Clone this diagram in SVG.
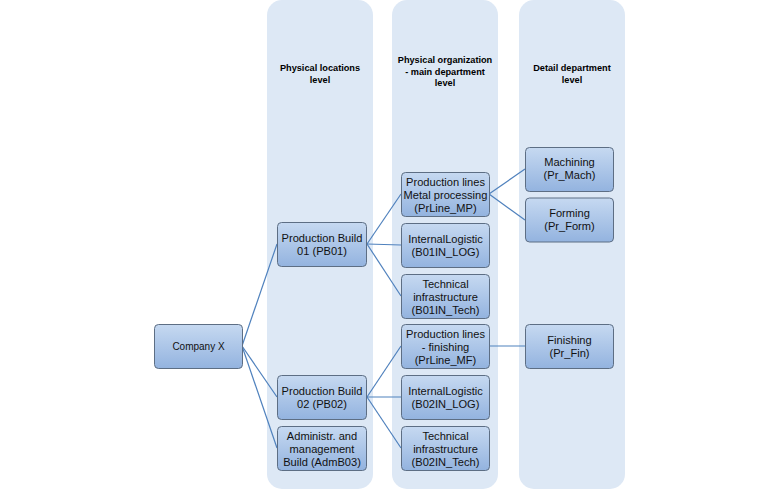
<svg xmlns="http://www.w3.org/2000/svg" width="759" height="490" viewBox="0 0 759 490">
  <defs>
    <linearGradient id="nodeFill" x1="0" y1="0" x2="0" y2="1">
      <stop offset="0" stop-color="#c6d9f1"/>
      <stop offset="1" stop-color="#93b3df"/>
    </linearGradient>
  </defs>
  <style>
    .lane { fill: #dde8f5; }
    .head { font-family: "Liberation Sans", Arial, sans-serif; font-size: 9.2px; font-weight: bold; fill: #000; text-anchor: middle; }
    .node rect { fill: url(#nodeFill); stroke: #5d6e84; stroke-width: 1; }
    .node text { font-family: "Liberation Sans", Arial, sans-serif; font-size: 11.1px; fill: #111; text-anchor: middle; }
    .conn line { stroke: #4f81bd; stroke-width: 1.2; fill: none; }
  </style>

  <rect width="759" height="490" fill="#ffffff"/>

  <!-- level lanes -->
  <g id="lanes">
    <rect class="lane" x="267" y="0" width="106" height="489" rx="15"/>
    <rect class="lane" x="392" y="0" width="106" height="489" rx="15"/>
    <rect class="lane" x="519" y="0" width="106" height="489" rx="15"/>
    <text class="head" x="320" y="71">Physical locations</text>
    <text class="head" x="320" y="82.5">level</text>
    <text class="head" x="445" y="63">Physical organization</text>
    <text class="head" x="445" y="74.5">- main department</text>
    <text class="head" x="445" y="86">level</text>
    <text class="head" x="572" y="71">Detail department</text>
    <text class="head" x="572" y="82.5">level</text>
  </g>

  <!-- connectors -->
  <g id="connectors" class="conn">
    <line x1="242" y1="346" x2="277" y2="244"/>
    <line x1="242" y1="346" x2="277" y2="397"/>
    <line x1="242" y1="346" x2="277" y2="448"/>
    <line x1="367" y1="244" x2="401" y2="194"/>
    <line x1="367" y1="244" x2="401" y2="245"/>
    <line x1="367" y1="244" x2="401" y2="296"/>
    <line x1="367" y1="397" x2="401" y2="346"/>
    <line x1="367" y1="397" x2="401" y2="397"/>
    <line x1="367" y1="397" x2="401" y2="448"/>
    <line x1="489" y1="194" x2="525" y2="169"/>
    <line x1="489" y1="194" x2="525" y2="220"/>
    <line x1="489" y1="346" x2="525" y2="346"/>
  </g>

  <!-- nodes -->
  <g id="company-x" class="node">
    <rect x="154.5" y="324.5" width="88" height="44" rx="4"/>
    <text x="198.5" y="350" style="font-size:10px">Company X</text>
  </g>

  <g id="pb01" class="node">
    <rect x="277.5" y="222.5" width="89" height="44" rx="4"/>
    <text x="322" y="242">Production Build</text>
    <text x="322" y="255">01 (PB01)</text>
  </g>
  <g id="pb02" class="node">
    <rect x="277.5" y="375.5" width="89" height="44" rx="4"/>
    <text x="322" y="395">Production Build</text>
    <text x="322" y="408">02 (PB02)</text>
  </g>
  <g id="admb03" class="node">
    <rect x="277.5" y="426.5" width="89" height="44" rx="4"/>
    <text x="322" y="439.5">Administr. and</text>
    <text x="322" y="452.5">management</text>
    <text x="322" y="465.5">Build (AdmB03)</text>
  </g>

  <g id="prline-mp" class="node">
    <rect x="401.5" y="172.5" width="88" height="44" rx="4"/>
    <text x="445.5" y="185.5">Production lines</text>
    <text x="445.5" y="198.5">Metal processing</text>
    <text x="445.5" y="211.5">(PrLine_MP)</text>
  </g>
  <g id="b01in-log" class="node">
    <rect x="401.5" y="223.5" width="88" height="44" rx="4"/>
    <text x="445.5" y="243">InternalLogistic</text>
    <text x="445.5" y="256">(B01IN_LOG)</text>
  </g>
  <g id="b01in-tech" class="node">
    <rect x="401.5" y="274.5" width="88" height="44" rx="4"/>
    <text x="445.5" y="287.5">Technical</text>
    <text x="445.5" y="300.5">infrastructure</text>
    <text x="445.5" y="313.5">(B01IN_Tech)</text>
  </g>
  <g id="prline-mf" class="node">
    <rect x="401.5" y="324.5" width="88" height="44" rx="4"/>
    <text x="445.5" y="337.5">Production lines</text>
    <text x="445.5" y="350.5">- finishing</text>
    <text x="445.5" y="363.5">(PrLine_MF)</text>
  </g>
  <g id="b02in-log" class="node">
    <rect x="401.5" y="375.5" width="88" height="44" rx="4"/>
    <text x="445.5" y="395">InternalLogistic</text>
    <text x="445.5" y="408">(B02IN_LOG)</text>
  </g>
  <g id="b02in-tech" class="node">
    <rect x="401.5" y="426.5" width="88" height="44" rx="4"/>
    <text x="445.5" y="439.5">Technical</text>
    <text x="445.5" y="452.5">infrastructure</text>
    <text x="445.5" y="465.5">(B02IN_Tech)</text>
  </g>

  <g id="pr-mach" class="node">
    <rect x="525.5" y="147.5" width="88" height="44" rx="4"/>
    <text x="569.5" y="166">Machining</text>
    <text x="569.5" y="179">(Pr_Mach)</text>
  </g>
  <g id="pr-form" class="node">
    <rect x="525.5" y="198" width="88" height="44" rx="4"/>
    <text x="569.5" y="217">Forming</text>
    <text x="569.5" y="230">(Pr_Form)</text>
  </g>
  <g id="pr-fin" class="node">
    <rect x="525.5" y="324.5" width="88" height="44" rx="4"/>
    <text x="569.5" y="344">Finishing</text>
    <text x="569.5" y="357">(Pr_Fin)</text>
  </g>
</svg>
